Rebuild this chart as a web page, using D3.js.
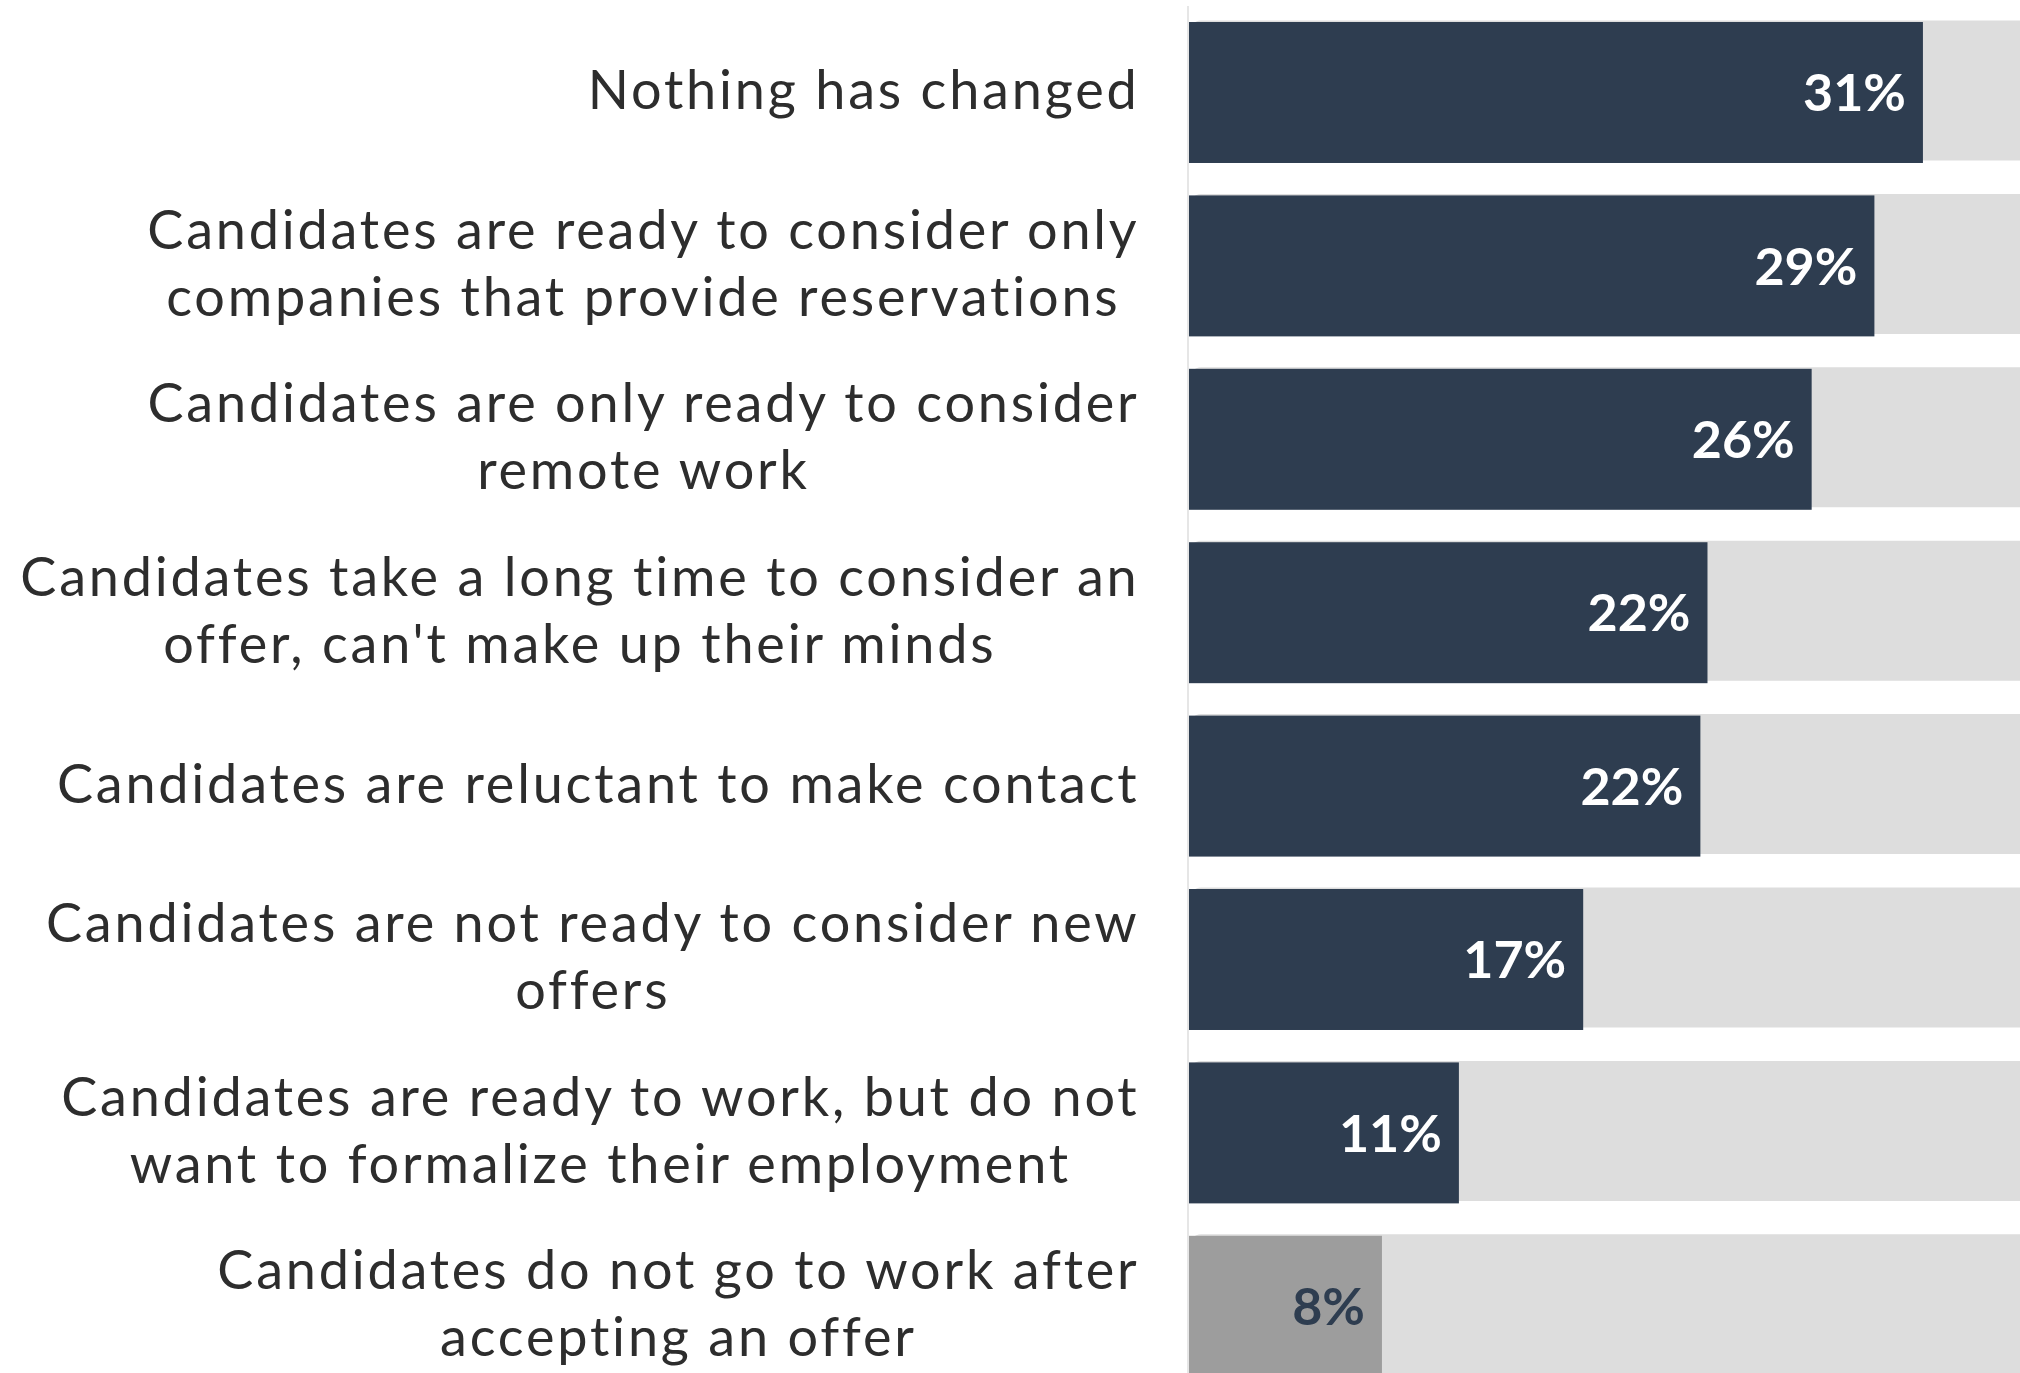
<!DOCTYPE html>
<html>
<head>
<meta charset="utf-8">
<script src="https://cdn.jsdelivr.net/npm/d3@7"></script>
<style>
  html, body { margin: 0; padding: 0; background: #ffffff; }
  svg { display: block; }
  text { font-variant-ligatures: none; }
</style>
</head>
<body>
<svg id="chart" width="2020" height="1373"></svg>
<script>
// Survey answers (line breaks mark where each label wraps)
const categories = [
  "Nothing has changed",
  "Candidates are ready to consider only\ncompanies that provide reservations",
  "Candidates are only ready to consider\nremote work",
  "Candidates take a long time to consider an\noffer, can't make up their minds",
  "Candidates are reluctant to make contact",
  "Candidates are not ready to consider new\noffers",
  "Candidates are ready to work, but do not\nwant to formalize their employment",
  "Candidates do not go to work after\naccepting an offer"
];
// Share of respondents, %
const values = [31.0, 28.95, 26.3, 21.9, 21.6, 16.65, 11.4, 8.15];
// The last answer is shown in a muted tone
const groups = ["main", "main", "main", "main", "main", "main", "main", "muted"];
const xMax = 35.1;

const W = 2020, H = 1373;
const plotLeft = 1189, plotRight = 2020;
const labelRight = 1139.5;
const labelFont = "Lato, 'Open Sans', sans-serif";
const labelSize = 54, lineGap = 67, labelSpacing = 2.8;
const valueSize = 52;

const colors = {
  main: { bar: "#2e3d50", text: "#ffffff" },
  muted: { bar: "#9d9d9d", text: "#2e3d50" }
};

const data = categories.map((c, i) => ({ cat: c, value: values[i], group: groups[i] }));

const svg = d3.select("#chart");

const x = d3.scaleLinear().domain([0, xMax]).range([plotLeft, plotRight]);
const y = d3.scaleBand()
  .domain(categories)
  .range([5.8, 5.8 + 173.4 * categories.length])
  .paddingInner(0.187)
  .paddingOuter(0.0935);

// Track behind each bar
svg.append("g").selectAll("rect")
  .data(data)
  .join("rect")
  .attr("x", x(0))
  .attr("y", d => y(d.cat) - 1.5)
  .attr("width", x(xMax) - x(0) + 12)
  .attr("height", y.bandwidth() - 1)
  .attr("rx", 12)
  .attr("fill", "#dddddd");

// Value bars
svg.append("g").selectAll("rect")
  .data(data)
  .join("rect")
  .attr("x", x(0))
  .attr("y", d => y(d.cat))
  .attr("width", d => x(d.value) - x(0))
  .attr("height", y.bandwidth())
  .attr("fill", d => colors[d.group].bar);

// Vertical baseline
svg.append("line")
  .attr("x1", plotLeft - 1).attr("x2", plotLeft - 1)
  .attr("y1", 6).attr("y2", H)
  .attr("stroke", "#e6e6e6")
  .attr("stroke-width", 2);

// Value labels inside the bars
const fmt = d3.format(".0f");
svg.append("g").selectAll("text")
  .data(data)
  .join("text")
  .attr("x", d => x(d.value) - 17)
  .attr("y", d => y(d.cat) + y.bandwidth() / 2 + valueSize * 0.36)
  .attr("text-anchor", "end")
  .attr("font-family", labelFont)
  .attr("font-weight", 700)
  .attr("font-size", valueSize)
  .attr("fill", d => colors[d.group].text)
  .text(d => fmt(d.value) + "%");

// Category labels: lines centred on each other, block right-aligned
const labels = svg.append("g")
  .attr("font-family", labelFont)
  .attr("font-size", labelSize)
  .attr("letter-spacing", labelSpacing)
  .attr("fill", "#2d2d2d");

data.forEach(d => {
  const lines = d.cat.split("\n");
  const g = labels.append("g");
  const cy = y(d.cat) + y.bandwidth() / 2 - 3;
  const texts = lines.map((line, i) => g.append("text")
    .attr("text-anchor", "middle")
    .attr("y", cy + (i - (lines.length - 1) / 2) * lineGap + labelSize * 0.36)
    .text(line));
  const maxW = d3.max(texts, t => t.node().getComputedTextLength());
  texts.forEach(t => t.attr("x", labelRight - maxW / 2));
});
</script>
</body>
</html>
